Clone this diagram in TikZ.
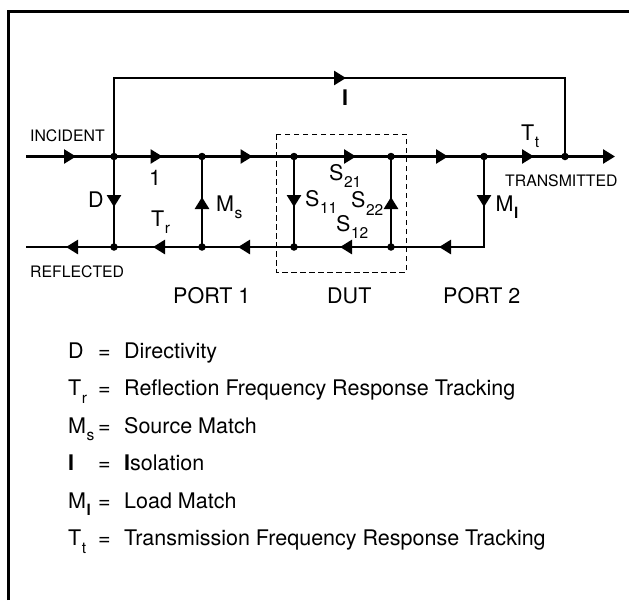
\documentclass[tikz,border=0pt]{standalone}
\usepackage{fontspec}
\setmainfont{TeX Gyre Heros}
\usetikzlibrary{arrows.meta}
\newcommand{\Sb}[1]{\kern0.5pt\raisebox{-7.5pt}{\fontsize{15.5}{15.5}\selectfont #1}}
\tikzset{
  x=1pt,y=-1pt,
  wire/.style={line width=2.6pt,black},
  wirearrow/.style={wire,-{Triangle[length=12pt,width=14pt,sep=0pt]},shorten >=0pt},
  jn/.style={circle,fill=black,inner sep=0pt,minimum size=7.5pt},
  frameline/.style={line width=3pt,black},
  dut/.style={line width=1pt,dash pattern=on 5.5pt off 3.5pt},
  big/.style={inner sep=0pt,font=\fontsize{21.5}{21.5}\selectfont,anchor=base west},
  small/.style={inner sep=0pt,font=\fontsize{15.8}{15.8}\selectfont,anchor=base west},
  legend/.style={big}
}
\begin{document}
\begin{tikzpicture}
\useasboundingbox (0,0) rectangle (629,600);
% frame
\coordinate (f1) at (8.5,600);
\coordinate (f2) at (8.5,11);
\coordinate (f3) at (629,11);
\draw[frameline] (f1) -- (f2) -- (f3);
% DUT box
\draw[dut] (276,134) rectangle (406,272);
% junctions
\node[jn] (a) at (114,156.5) {};
\node[jn] (b) at (202,156.5) {};
\node[jn] (c) at (294,156.5) {};
\node[jn] (d) at (391,156.5) {};
\node[jn] (e) at (484,156.5) {};
\node[jn] (g) at (565,156.5) {};
\node[jn] (h) at (114,247) {};
\node[jn] (i) at (202,247) {};
\node[jn] (j) at (294,247) {};
\node[jn] (k) at (391,247) {};
\coordinate (inL) at (26,156.5);
\coordinate (outR) at (615,156.5);
\coordinate (refL) at (26,247);
\coordinate (mlc) at (484,247);
\coordinate (lt) at (114,78);
\coordinate (rt) at (565,78);
% wires
\draw[wire] (inL) -- (a.center) -- (b.center) -- (c.center) -- (d.center) -- (e.center) -- (g.center);
\draw[wirearrow] (g.center) -- (outR);
\draw[wire] (refL) -- (h.center) -- (i.center) -- (j.center) -- (k.center) -- (mlc) -- (e.center);
\draw[wire] (a.center) -- (lt) -- (rt) -- (g.center);
\draw[wire] (a.center) -- (h.center);
\draw[wire] (b.center) -- (i.center);
\draw[wire] (c.center) -- (j.center);
\draw[wire] (d.center) -- (k.center);
% arrowheads on the top line
\coordinate (t1) at (76,156.5);
\coordinate (t2) at (162.5,156.5);
\coordinate (t3) at (252.5,156.5);
\coordinate (t4) at (356,156.5);
\coordinate (t5) at (448,156.5);
\coordinate (t6) at (534,156.5);
\draw[wirearrow] (inL) -- (t1);
\draw[wirearrow] (a.center) -- (t2);
\draw[wirearrow] (b.center) -- (t3);
\draw[wirearrow] (c.center) -- (t4);
\draw[wirearrow] (d.center) -- (t5);
\draw[wirearrow] (e.center) -- (t6);
% loop arrowhead
\coordinate (t7) at (346,78);
\draw[wirearrow] (lt) -- (t7);
% arrowheads on the bottom line
\coordinate (r1) at (66,247);
\coordinate (r2) at (153,247);
\coordinate (r3) at (238,247);
\coordinate (r4) at (340,247);
\coordinate (r5) at (439,247);
\draw[wirearrow] (h.center) -- (r1);
\draw[wirearrow] (i.center) -- (r2);
\draw[wirearrow] (j.center) -- (r3);
\draw[wirearrow] (k.center) -- (r4);
\draw[wirearrow] (mlc) -- (r5);
% vertical arrowheads
\coordinate (v1) at (114,207);
\coordinate (v2) at (202,197);
\coordinate (v3) at (294,207);
\coordinate (v4) at (391,197);
\coordinate (v5) at (484,207);
\draw[wirearrow] (a.center) -- (v1);
\draw[wirearrow] (i.center) -- (v2);
\draw[wirearrow] (c.center) -- (v3);
\draw[wirearrow] (k.center) -- (v4);
\draw[wirearrow] (e.center) -- (v5);
% small labels
\node[small] (incident) at (30,141.5) {INCIDENT};
\node[small] (reflected) at (30,277) {REFLECTED};
\node[small] (transmitted) at (505,186) {TRANSMITTED};
% diagram labels
\node[big] (lI) at (342,105) {\textbf{I}};
\node[big] (lone) at (149,185) {1};
\node[big] (lD) at (88,207) {D};
\node[big] (lTr) at (151,226) {T\Sb{r}};
\node[big] (lMs) at (216,211) {M\Sb{s}};
\node[big] (lS11) at (305,206) {S\Sb{11}};
\node[big] (lS21) at (329,180) {S\Sb{21}};
\node[big] (lS22) at (351,207.5) {S\Sb{22}};
\node[big] (lS12) at (336,231) {S\Sb{12}};
\node[big] (lMl) at (495.5,211) {M\Sb{\textbf{l}}};
\node[big] (lTt) at (521,140) {T\Sb{t}};
\node[big] (p1) at (173,303.5) {PORT 1};
\node[big] (dutl) at (327,303.5) {DUT};
\node[big] (p2) at (443,303.5) {PORT 2};
% legend
\node[legend] (n1) at (68,358) {D};
\node[legend] (n2) at (68,395.5) {T\Sb{r}};
\node[legend] (n3) at (68,433) {M\Sb{s}};
\node[legend] (n4) at (68,470.5) {\textbf{I}};
\node[legend] (n5) at (68,508) {M\Sb{\textbf{l}}};
\node[legend] (n6) at (68,545.5) {T\Sb{t}};
\foreach \nm/\yy in {e1/358,e2/395.5,e3/433,e4/470.5,e5/508,e6/545.5}
  \node[legend] (\nm) at (98,\yy) {=};
\node[legend] (d1) at (124,358) {Directivity};
\node[legend] (d2) at (124,395.5) {Reflection Frequency Response Tracking};
\node[legend] (d3) at (124,433) {Source Match};
\node[legend] (d4) at (124,470.5) {\textbf{I}solation};
\node[legend] (d5) at (124,508) {Load Match};
\node[legend] (d6) at (124,545.5) {Transmission Frequency Response Tracking};
\end{tikzpicture}
\end{document}
